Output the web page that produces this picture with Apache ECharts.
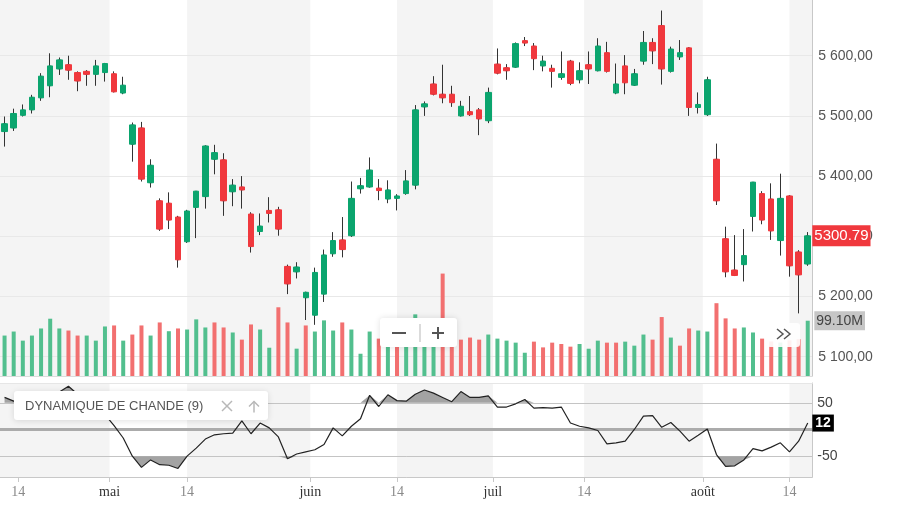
<!DOCTYPE html>
<html>
<head>
<meta charset="utf-8">
<script src="https://cdn.jsdelivr.net/npm/echarts@6/dist/echarts.min.js"></script>
<style>
  html, body { margin: 0; padding: 0; background: #fff; }
  #chart { width: 904px; height: 508px; }
</style>
</head>
<body>
<div id="chart"></div>
<script>
// trading days, 11 Apr - 16 Aug 2019
const dates = [
  '2019-04-11','2019-04-12','2019-04-15','2019-04-16','2019-04-17','2019-04-18','2019-04-23','2019-04-24','2019-04-25','2019-04-26','2019-04-29','2019-04-30',
  '2019-05-02','2019-05-03','2019-05-06','2019-05-07','2019-05-08','2019-05-09','2019-05-10','2019-05-13','2019-05-14','2019-05-15','2019-05-16','2019-05-17',
  '2019-05-20','2019-05-21','2019-05-22','2019-05-23','2019-05-24','2019-05-27','2019-05-28','2019-05-29','2019-05-30','2019-05-31',
  '2019-06-03','2019-06-04','2019-06-05','2019-06-06','2019-06-07','2019-06-10','2019-06-11','2019-06-12','2019-06-13','2019-06-14',
  '2019-06-17','2019-06-18','2019-06-19','2019-06-20','2019-06-21','2019-06-24','2019-06-25','2019-06-26','2019-06-27','2019-06-28',
  '2019-07-01','2019-07-02','2019-07-03','2019-07-04','2019-07-05','2019-07-08','2019-07-09','2019-07-10','2019-07-11','2019-07-12',
  '2019-07-15','2019-07-16','2019-07-17','2019-07-18','2019-07-19','2019-07-22','2019-07-23','2019-07-24','2019-07-25','2019-07-26',
  '2019-07-29','2019-07-30','2019-07-31',
  '2019-08-01','2019-08-02','2019-08-05','2019-08-06','2019-08-07','2019-08-08','2019-08-09','2019-08-12','2019-08-13','2019-08-14','2019-08-15','2019-08-16'
];
const opens = [
  5474,5480,5501,5510,5530,5550,5578,5585,5572,5574,
  5569,5572,5570,5538,5453,5480,5389,5359,5355,5332,
  5291,5348,5366,5428,5427,5374,5382,5337,5308,5343,
  5344,5250,5241,5198,5169,5204,5271,5294,5301,5379,
  5382,5380,5362,5363,5371,5385,5515,5553,5536,5536,
  5500,5507,5510,5492,5586,5580,5581,5625,5616,5583,
  5579,5564,5591,5560,5585,5575,5605,5538,5583,5551,
  5591,5622,5650,5574,5598,5613,5514,5502,5428,5296,
  5244,5253,5333,5371,5362,5293,5367,5274,5254
];
const highs = [
  5499,5512,5519,5535,5571,5604,5597,5600,5574,5576,
  5593,5588,5574,5565,5489,5490,5428,5363,5373,5334,
  5344,5375,5451,5452,5438,5395,5400,5340,5338,5365,
  5349,5253,5257,5208,5248,5278,5307,5332,5391,5397,
  5431,5395,5393,5370,5410,5518,5524,5566,5585,5550,
  5525,5533,5513,5547,5612,5586,5622,5631,5621,5600,
  5585,5607,5593,5589,5607,5629,5623,5587,5601,5578,
  5641,5629,5675,5615,5626,5614,5539,5565,5454,5316,
  5302,5312,5390,5375,5388,5404,5368,5277,5307
];
const lows = [
  5449,5475,5499,5504,5525,5531,5568,5560,5541,5550,
  5550,5557,5539,5536,5424,5391,5381,5309,5312,5248,
  5289,5297,5346,5403,5334,5350,5346,5273,5302,5323,
  5301,5204,5230,5161,5153,5191,5266,5265,5299,5371,
  5381,5360,5355,5343,5369,5378,5500,5534,5521,5515,
  5499,5500,5468,5488,5569,5560,5580,5616,5576,5574,
  5547,5560,5551,5554,5553,5574,5572,5536,5536,5550,
  5585,5586,5552,5572,5593,5500,5504,5500,5352,5232,
  5234,5225,5308,5320,5294,5268,5233,5172,5251
];
const closes = [
  5487,5504,5510,5531,5566,5583,5593,5576,5558,5569,
  5583,5587,5540,5551,5485,5395,5418,5312,5327,5261,
  5342,5375,5450,5439,5359,5385,5377,5283,5317,5338,
  5312,5221,5249,5207,5240,5269,5293,5278,5363,5384,
  5410,5376,5377,5367,5392,5510,5520,5536,5530,5522,
  5516,5502,5495,5539,5571,5575,5620,5621,5595,5591,
  5574,5570,5554,5575,5578,5616,5574,5553,5555,5570,
  5622,5608,5578,5611,5605,5514,5519,5560,5359,5241,
  5235,5268,5390,5327,5309,5363,5251,5236,5300.79
];
// volume, millions
const volumes = [
  72.5,79.7,63.4,72.5,85.2,102.7,85.2,81.5,72.5,72.5,
  63.4,88.8,90.6,63.4,74.3,90.6,72.5,96,80.3,85.2,
  83.3,101.5,87,96,87,78,65.2,92.4,83.3,50.7,
  123.2,96,49,90.6,79.7,99.7,81.5,96,83.3,39.9,
  79.7,67,70,66,62,110.5,64,72,183.6,64,
  65.2,68.9,65.2,74.3,67,63.4,59.8,41.7,61.6,51.3,
  59.8,57.4,52.6,57.4,48.9,63.4,59.8,59.8,61.6,54.4,
  74.3,65.2,105.7,68.9,54.4,85.2,81.5,79.7,130.5,103.3,
  85.2,87,78,67,62,60,64,66,99.1
];
// Chande momentum oscillator (9)
const cmo = [
  60,53,57,62,66,70,70,81,66,57,
  46,28,7,-16,-50,-71,-57,-66,-67,-73,
  -50,-35,-18,-10,-8,-7,16,-8,12,3,
  -14,-55,-46,-42,-38,-28,3,-12,6,20,
  64,43,65,54,53,66,74,68,60,52,
  71,60,60,63,42,42,48,56,40,41,
  40,42,12,6,3,-2,-27,-25,-22,0,
  25,26,4,13,-3,-22,-11,1,-47,-69,
  -68,-57,-36,-40,-33,-25,-42,-22,12
];
const priceTicks = [5100, 5200, 5300, 5400, 5500, 5600];
const cmoTicks = [-50, 50];
const cmoLevels = [-50, 0, 50];
const monthNames = ['janv.','févr.','mars','avr.','mai','juin','juil','août','sept.','oct.','nov.','déc.'];

const UP = '#0ba56e', DOWN = '#f0383d';
const VOL_UP = '#52bf8e', VOL_DOWN = '#f27070';
const NO_LINE = { color: 'rgba(0,0,0,0)', width: 1 };

// x ticks: month starts sit between sessions, the 14th on its session (or between if closed)
const xTicks = [];
const xTickText = {};
const monthTick = {};
dates.forEach((d, i) => {
  const cur = d.split('-').map(Number);
  const prev = i > 0 ? dates[i - 1].split('-').map(Number) : null;
  if (prev && prev[1] !== cur[1]) {
    xTicks.push(i - 0.5); xTickText[i - 0.5] = monthNames[cur[1] - 1]; monthTick[i - 0.5] = true;
  }
  if (cur[2] === 14) {
    xTicks.push(i); xTickText[i] = '14';
  } else if (cur[2] > 14 && prev && prev[1] === cur[1] && prev[2] < 14) {
    xTicks.push(i - 0.5); xTickText[i - 0.5] = '14';
  }
});
xTicks.sort((a, b) => a - b);

// shaded bands: from the 14th to the next month start
const xMin = -0.5, xMax = dates.length - 0.5;
const bands = [];
let from = xMin;
xTicks.forEach(t => {
  if (monthTick[t]) {
    if (from !== null) bands.push([from, t]);
    from = null;
  } else if (from === null) {
    from = t;
  }
});
if (from !== null) bands.push([from, xMax]);
const bandData = bands.map(b => [{ xAxis: b[0] }, { xAxis: b[1] }]);

const wickData = dates.map((d, i) => [opens[i], closes[i], lows[i], highs[i]]);
const bodyData = dates.map((d, i) => [opens[i], closes[i],
  Math.min(opens[i], closes[i]), Math.max(opens[i], closes[i])]);
const volData = volumes.map((v, i) => ({
  value: v,
  itemStyle: { color: (i === 0 ? closes[i] >= opens[i] : closes[i] >= closes[i - 1]) ? VOL_UP : VOL_DOWN }
}));
const upBase = cmo.map(() => 50);
const upFill = cmo.map(v => Math.max(v, 50) - 50);
const loBase = cmo.map(() => -50);
const loFill = cmo.map(v => Math.min(v, -50) + 50);

const lastClose = closes[closes.length - 1];
const lastVol = volumes[volumes.length - 1];
const lastCmo = cmo[cmo.length - 1];

function frPrice(v) {
  return v.toFixed(2).replace('.', ',').replace(/\B(?=(\d{3})+(?!\d))/, ' ');
}

const SANS = '"Liberation Sans", Arial, sans-serif';
const SERIF = '"Liberation Serif", "Times New Roman", serif';

const chart = echarts.init(document.getElementById('chart'));
chart.setOption({
  animation: false,
  backgroundColor: '#fff',
  grid: [
    { left: -2.3, width: 814.6, top: 0, height: 376 },
    { left: -2.3, width: 814.6, top: 383, height: 94 }
  ],
  xAxis: [
    { type: 'category', gridIndex: 0, data: dates, z: 3,
      axisLine: { show: true, onZero: false, lineStyle: { color: '#dcdcdc' } },
      axisTick: { show: false }, axisLabel: { show: false }, splitLine: { show: false } },
    { type: 'value', gridIndex: 0, min: xMin, max: xMax, show: false },
    { type: 'value', gridIndex: 1, min: xMin, max: xMax, z: 3,
      axisLine: { show: true, onZero: false, lineStyle: { color: '#c8c8c8' } },
      axisTick: { show: true, length: 5, customValues: xTicks, lineStyle: { color: '#c8c8c8' } },
      splitLine: { show: false },
      axisLabel: {
        customValues: xTicks, margin: 8,
        formatter: v => monthTick[v] ? '{m|' + xTickText[v] + '}' : '{d|' + xTickText[v] + '}',
        rich: {
          m: { fontFamily: SERIF, fontSize: 14, color: '#333' },
          d: { fontFamily: SERIF, fontSize: 14, color: '#8a8a8a' }
        }
      } },
    { type: 'category', gridIndex: 1, data: dates, z: 3,
      axisLine: { show: true, onZero: false, lineStyle: { color: '#e6e6e6' } },
      axisTick: { show: false }, axisLabel: { show: false }, splitLine: { show: false } }
  ],
  yAxis: [
    { type: 'value', gridIndex: 0, position: 'right', min: 5068, max: 5692.5, z: 3,
      axisLine: { show: true, onZero: false, lineStyle: { color: '#c8c8c8' } },
      axisTick: { show: false }, splitLine: { show: false },
      axisLabel: { customValues: priceTicks, formatter: frPrice, margin: 6,
        color: '#555', fontSize: 14, fontFamily: SANS } },
    { type: 'value', gridIndex: 0, min: 0, max: 674, show: false },
    { type: 'value', gridIndex: 1, position: 'right', min: -89, max: 87, z: 3,
      axisLine: { show: true, onZero: false, lineStyle: { color: '#c8c8c8' } },
      axisTick: { show: false }, splitLine: { show: false },
      axisLabel: { customValues: cmoTicks, margin: 5,
        color: '#444', fontSize: 14, fontFamily: SANS } }
  ],
  graphic: [
    // indicator legend
    { type: 'rect', z: 100, shape: { x: 14, y: 391, width: 254, height: 29, r: 3 },
      style: { fill: '#fff', shadowBlur: 6, shadowColor: 'rgba(0,0,0,0.12)', shadowOffsetY: 1 } },
    { type: 'text', z: 101, x: 25, y: 406, style: { text: 'DYNAMIQUE DE CHANDE (9)',
      fill: '#555', font: '13px ' + SANS, verticalAlign: 'middle' } },
    { type: 'polyline', z: 101, shape: { points: [[222, 401], [232, 411]] }, style: { stroke: '#b8b8b8', lineWidth: 1.5 } },
    { type: 'polyline', z: 101, shape: { points: [[232, 401], [222, 411]] }, style: { stroke: '#b8b8b8', lineWidth: 1.5 } },
    { type: 'polyline', z: 101, shape: { points: [[254, 401.5], [254, 412.5]] }, style: { stroke: '#b8b8b8', lineWidth: 1.5 } },
    { type: 'polyline', z: 101, shape: { points: [[249, 406.5], [254, 401.5], [259, 406.5]] }, style: { stroke: '#b8b8b8', lineWidth: 1.5, fill: null } },
    // zoom buttons
    { type: 'rect', z: 100, shape: { x: 380, y: 318, width: 77, height: 29, r: 3 },
      style: { fill: '#fff', shadowBlur: 6, shadowColor: 'rgba(0,0,0,0.12)' } },
    { type: 'polyline', z: 101, shape: { points: [[392, 333], [406, 333]] }, style: { stroke: '#555', lineWidth: 2 } },
    { type: 'polyline', z: 101, shape: { points: [[420, 324], [420, 342]] }, style: { stroke: '#cfcfcf', lineWidth: 1.5 } },
    { type: 'polyline', z: 101, shape: { points: [[432, 333], [444, 333]] }, style: { stroke: '#555', lineWidth: 2 } },
    { type: 'polyline', z: 101, shape: { points: [[438, 327], [438, 339]] }, style: { stroke: '#555', lineWidth: 2 } },
    // scroll-to-end button
    { type: 'rect', z: 100, shape: { x: 767, y: 323, width: 33, height: 24, r: 3 },
      style: { fill: 'rgba(255,255,255,0.9)' } },
    { type: 'polyline', z: 101, shape: { points: [[777, 329], [783, 334], [777, 339]] }, style: { stroke: '#555', lineWidth: 1.5, fill: null } },
    { type: 'polyline', z: 101, shape: { points: [[784, 329], [790, 334], [784, 339]] }, style: { stroke: '#555', lineWidth: 1.5, fill: null } }
  ],
  series: [
    { name: 'bandsMain', type: 'line', xAxisIndex: 1, yAxisIndex: 0, data: [], silent: true,
      markArea: { silent: true, z: 0, itemStyle: { color: '#f4f4f4' }, data: bandData },
      markLine: { silent: true, z: 1, symbol: ['none', 'none'], label: { show: false },
        lineStyle: { color: '#e8e8e8', width: 1, type: 'solid' },
        data: priceTicks.map(v => ({ yAxis: v })) } },
    { name: 'bandsInd', type: 'line', xAxisIndex: 2, yAxisIndex: 2, data: [], silent: true,
      markArea: { silent: true, z: 0, itemStyle: { color: '#f4f4f4' }, data: bandData } },
    { name: 'Volume', type: 'bar', xAxisIndex: 0, yAxisIndex: 1, data: volData, barWidth: 4, z: 2,
      markLine: { silent: true, z: 10, symbol: ['none', 'none'], lineStyle: NO_LINE,
        data: [{ yAxis: lastVol }],
        label: { show: true, position: 'end', distance: 2, formatter: () => lastVol.toFixed(2) + 'M',
          backgroundColor: '#c6c6c6', color: '#444', fontSize: 14, fontFamily: SANS, padding: [3, 2, 2, 2] } } },
    { name: 'wicks', type: 'candlestick', xAxisIndex: 0, yAxisIndex: 0, data: wickData, barWidth: 2, z: 3,
      itemStyle: { color: '#333', color0: '#333', borderColor: '#333', borderColor0: '#333', borderWidth: 1 } },
    { name: 'CAC 40', type: 'candlestick', xAxisIndex: 0, yAxisIndex: 0, data: bodyData, barWidth: 6, z: 4,
      itemStyle: { color: UP, color0: DOWN, borderColor: UP, borderColor0: DOWN, borderWidth: 1 },
      markLine: { silent: true, z: 10, symbol: ['none', 'none'], lineStyle: NO_LINE,
        data: [{ yAxis: lastClose }],
        label: { show: true, position: 'end', distance: 0, formatter: () => lastClose.toFixed(2),
          backgroundColor: DOWN, color: '#fff', fontSize: 15, fontFamily: SANS, padding: [3, 2, 3, 2] } } },
    { name: 'upBase', type: 'line', xAxisIndex: 3, yAxisIndex: 2, data: upBase, stack: 'up', stackStrategy: 'all',
      symbol: 'none', silent: true, lineStyle: { opacity: 0 }, z: 3 },
    { name: 'upFill', type: 'line', xAxisIndex: 3, yAxisIndex: 2, data: upFill, stack: 'up', stackStrategy: 'all',
      symbol: 'none', silent: true, lineStyle: { opacity: 0 }, areaStyle: { color: '#a3a3a3', opacity: 1 }, z: 3 },
    { name: 'loBase', type: 'line', xAxisIndex: 3, yAxisIndex: 2, data: loBase, stack: 'lo', stackStrategy: 'all',
      symbol: 'none', silent: true, lineStyle: { opacity: 0 }, z: 3 },
    { name: 'loFill', type: 'line', xAxisIndex: 3, yAxisIndex: 2, data: loFill, stack: 'lo', stackStrategy: 'all',
      symbol: 'none', silent: true, lineStyle: { opacity: 0 }, areaStyle: { color: '#a3a3a3', opacity: 1 }, z: 3 },
    { name: 'DYNAMIQUE DE CHANDE (9)', type: 'line', xAxisIndex: 3, yAxisIndex: 2, data: cmo,
      symbol: 'none', lineStyle: { color: '#222', width: 1.2 }, z: 5,
      markLine: { silent: true, z: 1, symbol: ['none', 'none'], label: { show: false },
        data: cmoLevels.map(v => ({ yAxis: v, lineStyle: v === 0
          ? { color: '#ababab', width: 3, type: 'solid' }
          : { color: '#c4c4c4', width: 1, type: 'solid' } })) } },
    { name: 'lastCmo', type: 'line', xAxisIndex: 3, yAxisIndex: 2, data: [], silent: true,
      markLine: { silent: true, z: 10, symbol: ['none', 'none'], lineStyle: NO_LINE,
        data: [{ yAxis: lastCmo }],
        label: { show: true, position: 'end', distance: 0, formatter: () => String(lastCmo),
          backgroundColor: '#000', color: '#fff', fontSize: 14, fontWeight: 'bold', fontFamily: SANS,
          padding: [2, 3, 1, 3] } } }
  ]
});
</script>
</body>
</html>
